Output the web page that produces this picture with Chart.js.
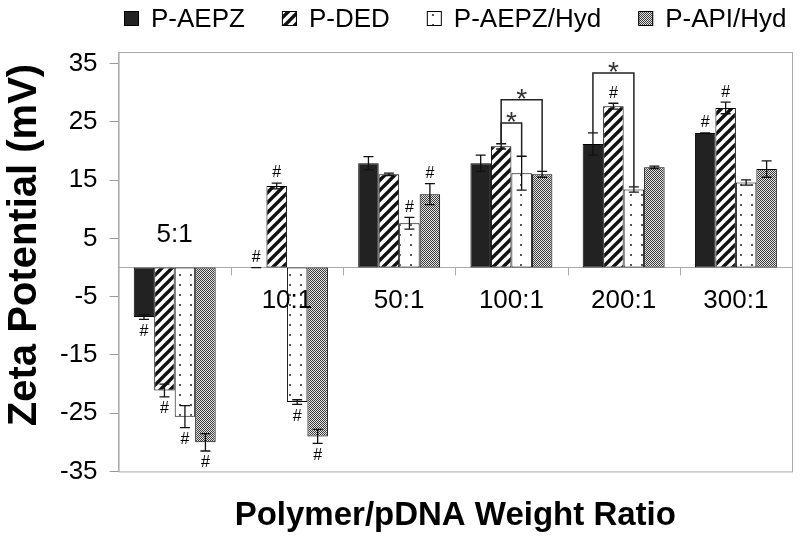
<!DOCTYPE html>
<html>
<head>
<meta charset="utf-8">
<script src="https://cdn.jsdelivr.net/npm/chart.js@4.4.1/dist/chart.umd.min.js"></script>
<style>
  html, body { margin: 0; padding: 0; background: #fff; }
  #wrap { width: 800px; height: 544px; }
</style>
</head>
<body>
<div id="wrap"><canvas id="zeta"></canvas></div>
<script>
const categories = ["5:1", "10:1", "50:1", "100:1", "200:1", "300:1"];
const seriesNames = ["P-AEPZ", "P-DED", "P-AEPZ/Hyd", "P-API/Hyd"];

const aepz = [-8.5, 0, 17.9, 17.9, 21.2, 23.1];
const aepzErr = [0.4, 0, 1.15, 1.4, 1.9, 0];
const ded = [-21.1, 14.0, 16.0, 20.8, 27.7, 27.4];
const dedErr = [1.1, 0.5, 0.2, 0.45, 0.5, 1.0];
const aepzHyd = [-25.6, -23.1, 7.6, 16.2, 13.4, 14.6];
const aepzHydErr = [1.9, 0.4, 1.0, 2.9, 0.45, 0.45];
const apiHyd = [-30.0, -29.0, 12.6, 16.0, 17.2, 16.9];
const apiHydErr = [1.5, 1.2, 1.8, 0.5, 0.2, 1.4];

// "#" marks, 1 = marked
const aepzHash = [1, 1, 0, 0, 0, 1];
const dedHash = [1, 1, 0, 0, 1, 1];
const aepzHydHash = [1, 1, 1, 0, 0, 0];
const apiHydHash = [1, 1, 1, 0, 0, 0];

// "*" brackets: [category, series a, series b, bracket level in mV]
const brackets = [[3, 1, 2, 24.8], [3, 1, 3, 28.8], [4, 0, 2, 33.4]];

const yTicks = [-35, -25, -15, -5, 5, 15, 25, 35];
const yTitle = "Zeta Potential (mV)";

const FONT = "'Liberation Sans', Arial, sans-serif";
Chart.defaults.font.family = FONT;
Chart.defaults.color = "#000";

function makePattern(w, h, drawFn) {
	const c = document.createElement("canvas");
	c.width = w;
	c.height = h;
	const g = c.getContext("2d");
	drawFn(g, w, h);
	return g.createPattern(c, "repeat");
}

const hatch = makePattern(10, 10, (g, s) => {
	g.fillStyle = "#fff";
	g.fillRect(0, 0, s, s);
	g.strokeStyle = "#111";
	g.lineWidth = 3.4;
	g.beginPath();
	g.moveTo(-2, s + 2); g.lineTo(s + 2, -2);
	g.moveTo(-s / 2 - 2, s / 2 + 2); g.lineTo(s / 2 + 2, -s / 2 - 2);
	g.moveTo(s / 2 - 2, s * 1.5 + 2); g.lineTo(s * 1.5 + 2, s / 2 - 2);
	g.stroke();
});
const dots = makePattern(11, 10, (g, w, h) => {
	g.fillStyle = "#fff";
	g.fillRect(0, 0, w, h);
	g.fillStyle = "#555";
	g.fillRect(3, 4, 2, 2);
});
const grayCheck = makePattern(2, 2, (g) => {
	g.fillStyle = "#e6e6e6";
	g.fillRect(0, 0, 2, 2);
	g.fillStyle = "#3a3a3a";
	g.fillRect(0, 0, 1, 1);
	g.fillRect(1, 1, 1, 1);
});

const values = [aepz, ded, aepzHyd, apiHyd];
const errors = [aepzErr, dedErr, aepzHydErr, apiHydErr];
const hashes = [aepzHash, dedHash, aepzHydHash, apiHydHash];
const fills = ["#222", hatch, dots, grayCheck];

const extras = {
	id: "extras",
	beforeDatasetsDraw(chart) {
		const { ctx, chartArea: a, scales: { y } } = chart;
		const y0 = y.getPixelForValue(0);
		ctx.save();
		ctx.strokeStyle = "#aaa";
		ctx.lineWidth = 1;
		ctx.strokeRect(a.left + 0.5, a.top + 0.5, a.right - a.left, a.bottom - a.top);
		ctx.beginPath();
		ctx.moveTo(a.left, y0);
		ctx.lineTo(a.right, y0);
		const w = (a.right - a.left) / categories.length;
		for (let i = 1; i < categories.length; i++) {
			const px = Math.round(a.left + i * w) + 0.5;
			ctx.moveTo(px, y0);
			ctx.lineTo(px, y0 + 8);
		}
		ctx.stroke();
		ctx.restore();
	},
	afterDatasetsDraw(chart) {
		const { ctx, scales: { x, y } } = chart;
		const y0 = y.getPixelForValue(0);
		ctx.save();
		// error bars and "#" marks
		values.forEach((vals, d) => {
			const meta = chart.getDatasetMeta(d);
			vals.forEach((v, i) => {
				const bx = meta.data[i].x;
				const e = errors[d][i];
				const yHi = y.getPixelForValue(v + e);
				const yLo = y.getPixelForValue(v - e);
				ctx.strokeStyle = "#111";
				ctx.lineWidth = 1.3;
				ctx.beginPath();
				ctx.moveTo(bx, yHi); ctx.lineTo(bx, yLo);
				ctx.moveTo(bx - 5, yHi); ctx.lineTo(bx + 5, yHi);
				ctx.moveTo(bx - 5, yLo); ctx.lineTo(bx + 5, yLo);
				ctx.stroke();
				if (hashes[d][i]) {
					ctx.fillStyle = "#000";
					ctx.font = "16px " + FONT;
					ctx.textAlign = "center";
					ctx.textBaseline = "middle";
					const hy = v >= 0 ? yHi - 10 : yLo + 12;
					ctx.fillText("#", bx, hy);
				}
			});
		});
		// significance brackets
		brackets.forEach(([c, sa, sb, level]) => {
			const xa = chart.getDatasetMeta(sa).data[c].x;
			const xb = chart.getDatasetMeta(sb).data[c].x;
			const ya = y.getPixelForValue(values[sa][c] + errors[sa][c]);
			const yb = y.getPixelForValue(values[sb][c] + errors[sb][c]);
			const yt = y.getPixelForValue(level);
			ctx.strokeStyle = "#222";
			ctx.lineWidth = 1.5;
			ctx.beginPath();
			ctx.moveTo(xa, ya); ctx.lineTo(xa, yt); ctx.lineTo(xb, yt); ctx.lineTo(xb, yb);
			ctx.stroke();
			ctx.fillStyle = "#333";
			ctx.font = "28px " + FONT;
			ctx.textAlign = "center";
			ctx.textBaseline = "alphabetic";
			ctx.fillText("*", (xa + xb) / 2, yt - 8 + 16);
		});
		// category labels next to the zero line
		ctx.fillStyle = "#000";
		ctx.font = "26px " + FONT;
		ctx.textAlign = "center";
		ctx.textBaseline = "middle";
		categories.forEach((lab, i) => {
			const maxV = Math.max(...values.map((s) => s[i]));
			const ly = maxV <= 0 ? y0 - 33 : y0 + 33;
			ctx.fillText(lab, x.getPixelForValue(i), ly);
		});
		ctx.restore();
	},
	afterDraw(chart) {
		const { ctx, chartArea: a } = chart;
		ctx.save();
		// y axis title
		ctx.font = "bold 40px " + FONT;
		ctx.fillStyle = "#000";
		ctx.textAlign = "center";
		ctx.textBaseline = "middle";
		ctx.translate(25, 245);
		ctx.rotate(-Math.PI / 2);
		ctx.fillText(yTitle, 0, 0);
		ctx.setTransform(1, 0, 0, 1, 0, 0);
		// legend
		ctx.font = "26px " + FONT;
		ctx.textAlign = "left";
		const box = 15, gap = 12, itemGap = 37;
		const widths = seriesNames.map((n) => ctx.measureText(n).width);
		const total = widths.reduce((s, w) => s + w + box + gap, 0) + itemGap * (seriesNames.length - 1);
		let lx = (a.left + a.right) / 2 - total / 2;
		const ly = 18.5;
		chart.data.datasets.forEach((ds, d) => {
			ctx.fillStyle = ds.backgroundColor;
			ctx.fillRect(lx, ly - box / 2, box, box);
			ctx.strokeStyle = "#000";
			ctx.lineWidth = 1;
			ctx.strokeRect(lx + 0.5, ly - box / 2 + 0.5, box - 1, box - 1);
			ctx.fillStyle = "#000";
			ctx.fillText(ds.label, lx + box + gap, ly + 1);
			lx += box + gap + widths[d] + itemGap;
		});
		ctx.restore();
	},
};

new Chart(document.getElementById("zeta"), {
	type: "bar",
	data: {
		labels: categories,
		datasets: seriesNames.map((name, d) => ({
			label: name,
			data: values[d],
			backgroundColor: fills[d],
			borderColor: "#000",
			borderWidth: 1,
			borderSkipped: false,
			categoryPercentage: 0.73,
			barPercentage: 1,
		})),
	},
	options: {
		responsive: true,
		maintainAspectRatio: false,
		animation: false,
		layout: { padding: { top: 52, right: 8, left: 48, bottom: 0 } },
		plugins: {
			legend: { display: false },
			tooltip: { enabled: false },
		},
		scales: {
			x: {
				grid: { display: false },
				border: { display: false },
				ticks: { display: false },
				title: {
					display: true,
					text: "Polymer/pDNA Weight Ratio",
					font: { size: 33, weight: "bold" },
					padding: { top: 17, bottom: 8 },
				},
			},
			y: {
				min: -35,
				max: 37,
				afterBuildTicks: (scale) => {
					scale.ticks = yTicks.map((v) => ({ value: v }));
				},
				grid: { drawOnChartArea: false, color: "#999", tickLength: 9 },
				border: { color: "#aaa" },
				ticks: { font: { size: 26 }, padding: 12, color: "#000" },
			},
		},
	},
	plugins: [extras],
});
</script>
</body>
</html>
